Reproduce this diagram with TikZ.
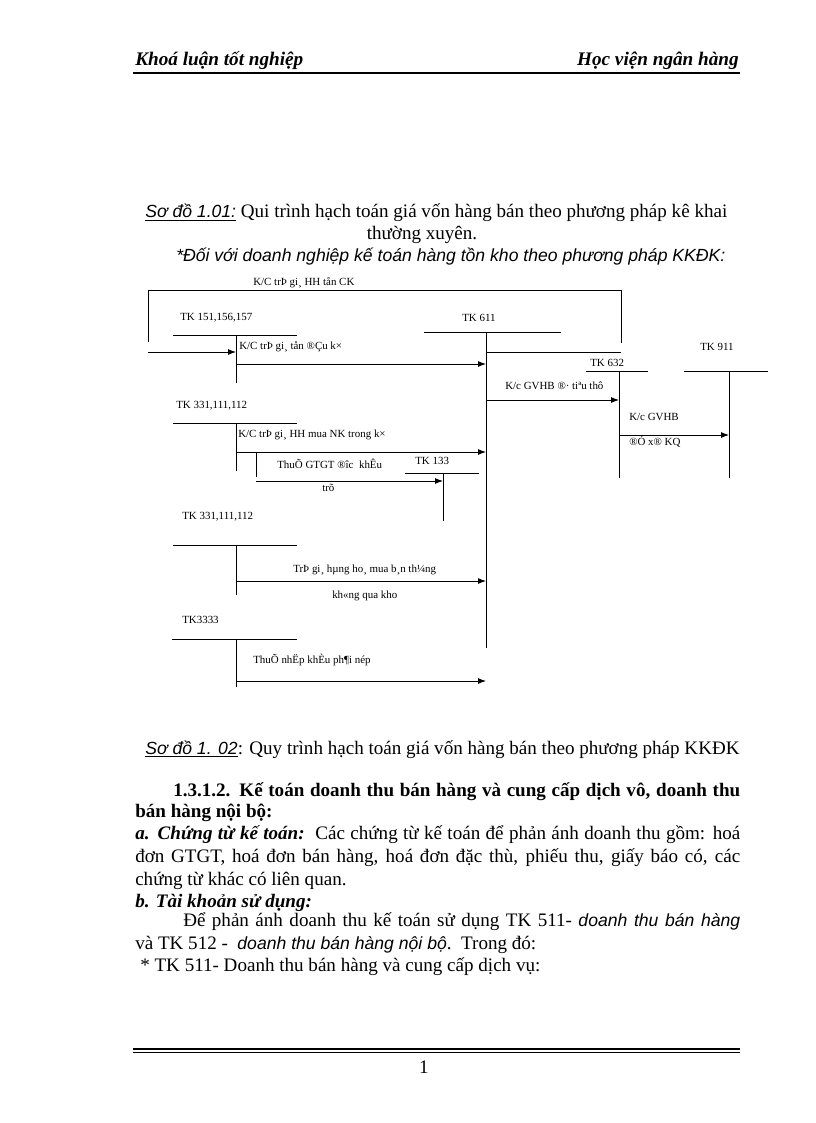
\documentclass[tikz,border=0pt]{standalone}
\usepackage{fontspec}
\setmainfont{Liberation Serif}
\newfontfamily\sansf{Liberation Sans}
\usetikzlibrary{arrows.meta}
\newcommand\fitline[2]{\makebox[#1pt][s]{#2}}
\newcommand\sansit{\sansf\itshape\fontsize{13.2}{16}\selectfont}
\begin{document}
\begin{tikzpicture}[x=0.75pt,y=-0.75pt,
  acc/.style={line width=0.7pt},
  flow/.style={line width=0.7pt,-{Latex[length=6pt,width=4.5pt]}},
  lbl/.style={font=\fontsize{8.2}{9}\selectfont, inner sep=0pt, anchor=base west},
  body/.style={font=\fontsize{14.3}{16}\selectfont, inner sep=0pt, anchor=base west},
  rule/.style={line width=#1}]
\useasboundingbox (0,0) rectangle (816,1123);

% header
\node[body, font=\fontsize{14.4}{16}\selectfont\bfseries\itshape] (hl) at (135,66) {Khoá luận tốt nghiệp};
\node[body, anchor=base east, font=\fontsize{14.4}{16}\selectfont\bfseries\itshape] (hr) at (739,66) {Học viện ngân hàng};
\draw[rule=1.5pt] (133,73) -- (740,73);

% captions
\node[body] (c1) at (145,218) {{\sansit\underline{Sơ đồ 1.01:}} Qui trình hạch toán giá vốn hàng bán theo phương pháp kê khai};
\node[body, anchor=base] (c2) at (422,239) {thường xuyên.};
\node[body, font=\sansit] (c3) at (176,261) {*Đối với doanh nghiệp kế toán hàng tồn kho theo phương pháp KKĐK:};

% ---------- diagram ----------
% frame
\coordinate (fL) at (148,342); \coordinate (fTL) at (148,290);
\coordinate (fTR) at (621,290); \coordinate (fR) at (621,343);
\draw[acc] (fL) -- (fTL) -- (fTR) -- (fR);
\node[lbl] (lf) at (253,285) {K/C trÞ gi¸ HH tån CK};

% TK 151
\node[lbl] (t151) at (180,320) {TK 151,156,157};
\coordinate (a1) at (173,335); \coordinate (a2) at (297,335);
\coordinate (a3) at (236,335); \coordinate (a4) at (236,383);
\draw[acc] (a1) -- (a2); \draw[acc] (a3) -- (a4);
\coordinate (in1) at (148,352); \coordinate (in2) at (236,352);
\draw[flow] (in1) -- (in2);
\node[lbl] (l1) at (239,349) {K/C trÞ gi¸ tån ®Çu k×};

% TK 611
\node[lbl] (t611) at (462,321) {TK 611};
\coordinate (b1) at (424,332); \coordinate (b2) at (561,332);
\coordinate (b3) at (486,332); \coordinate (b4) at (486,648);
\draw[acc] (b1) -- (b2); \draw[acc] (b3) -- (b4);
\coordinate (s1) at (236,364); \coordinate (s2) at (486,364);
\draw[flow] (s1) -- (s2);
\coordinate (r1) at (486,352); \coordinate (r2) at (621,352);
\draw[acc] (r1) -- (r2);

% TK 632
\node[lbl] (t632) at (590,366) {TK 632};
\coordinate (c1a) at (586,371); \coordinate (c1b) at (648,371);
\coordinate (c1c) at (619,371); \coordinate (c1d) at (619,478);
\draw[acc] (c1a) -- (c1b); \draw[acc] (c1c) -- (c1d);

% TK 911
\node[lbl] (t911) at (700,350) {TK 911};
\coordinate (d1) at (684,371); \coordinate (d2) at (768,371);
\coordinate (d3) at (729,371); \coordinate (d4) at (729,478);
\draw[acc] (d1) -- (d2); \draw[acc] (d3) -- (d4);

\coordinate (g1) at (486,400); \coordinate (g2) at (619,400);
\draw[flow] (g1) -- (g2);
\node[lbl] (lg) at (505,389) {K/c GVHB ®· tiªu thô};
\coordinate (k1) at (619,435); \coordinate (k2) at (729,435);
\draw[flow] (k1) -- (k2);
\node[lbl] (lk1) at (629,420) {K/c GVHB};
\node[lbl] (lk2) at (629,445) {®Ó x® KQ};

% TK 331 (a)
\node[lbl] (t331a) at (176,408) {TK 331,111,112};
\coordinate (e1) at (173,423); \coordinate (e2) at (297,423);
\coordinate (e3) at (236,423); \coordinate (e4) at (236,471);
\draw[acc] (e1) -- (e2); \draw[acc] (e3) -- (e4);
\node[lbl] (le) at (238,437) {K/C trÞ gi¸ HH mua NK trong k×};
\coordinate (m1) at (236,452); \coordinate (m2) at (486,452);
\draw[flow] (m1) -- (m2);
\coordinate (v1) at (256,452); \coordinate (v2) at (256,477);
\draw[acc] (v1) -- (v2);
\coordinate (v3) at (256,481); \coordinate (v4) at (443,481);
\draw[flow] (v3) -- (v4);
\node[lbl] (lv1) at (277,468) {ThuÕ GTGT ®îc\ \ khÊu};
\node[lbl] (lv2) at (322,491) {trõ};

% TK 133
\node[lbl] (t133) at (415,464) {TK 133};
\coordinate (f1) at (405,473); \coordinate (f2) at (479,473);
\coordinate (f3) at (443,473); \coordinate (f4) at (443,521);
\draw[acc] (f1) -- (f2); \draw[acc] (f3) -- (f4);

% TK 331 (b)
\node[lbl] (t331b) at (182,519) {TK 331,111,112};
\coordinate (p1) at (173,545); \coordinate (p2) at (297,545);
\coordinate (p3) at (236,545); \coordinate (p4) at (236,595);
\draw[acc] (p1) -- (p2); \draw[acc] (p3) -- (p4);
\coordinate (q1) at (236,581); \coordinate (q2) at (486,581);
\draw[flow] (q1) -- (q2);
\node[lbl] (lq1) at (293,572) {TrÞ gi¸ hµng ho¸ mua b¸n th¼ng};
\node[lbl] (lq2) at (332,598) {kh«ng qua kho};

% TK 3333
\node[lbl] (t3333) at (182,623) {TK3333};
\coordinate (u1) at (172,639); \coordinate (u2) at (297,639);
\coordinate (u3) at (236,639); \coordinate (u4) at (236,687);
\draw[acc] (u1) -- (u2); \draw[acc] (u3) -- (u4);
\node[lbl] (lu) at (253,663) {ThuÕ nhËp khÈu ph¶i nép};
\coordinate (w1) at (236,681); \coordinate (w2) at (486,681);
\draw[flow] (w1) -- (w2);

% caption 2
\node[body] (c4) at (145,754) {{\sansit\underline{Sơ đồ 1. 02}}: Quy trình hạch toán giá vốn hàng bán theo phương pháp KKĐK};

% text section
\node[body, font=\fontsize{14.3}{16}\selectfont\bfseries] (p1l1) at (173,796) {\fitline{425.25}{1.3.1.2. Kế toán doanh thu bán hàng và cung cấp dịch vô, doanh thu}};
\node[body, font=\fontsize{14.3}{16}\selectfont\bfseries] (p1l2) at (135,817) {bán hàng nội bộ:};
\node[body] (p2l1) at (135,839) {\fitline{453.75}{\textbf{\textit{a. Chứng từ kế toán:}}\ \ Các chứng từ kế toán để phản ánh doanh thu gồm: hoá}};
\node[body] (p2l2) at (135,862) {\fitline{453.75}{đơn GTGT, hoá đơn bán hàng, hoá đơn đặc thù, phiếu thu, giấy báo có, các}};
\node[body] (p2l3) at (135,885) {chứng từ khác có liên quan.};
\node[body, font=\fontsize{14.3}{16}\selectfont\bfseries\itshape] (p3l1) at (135,907) {b. Tài khoản sử dụng:};
\node[body] (p3l2) at (183,926) {\fitline{417.75}{Để phản ánh doanh thu kế toán sử dụng TK 511- {\sansit doanh thu bán hàng}}};
\node[body] (p3l3) at (135,949) {và TK 512 -\ \ {\sansit doanh thu bán hàng nội bộ}.\ \ Trong đó:};
\node[body] (p3l4) at (140,971) {* TK 511- Doanh thu bán hàng và cung cấp dịch vụ:};

% footer
\draw[rule=1pt] (133,1049) -- (740,1049);
\draw[rule=1pt] (133,1052.5) -- (740,1052.5);
\node[body, anchor=base] (pg) at (424,1073) {1};
\end{tikzpicture}
\end{document}
